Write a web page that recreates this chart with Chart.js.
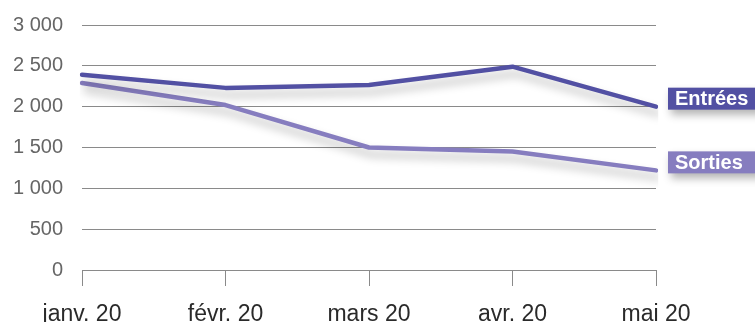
<!DOCTYPE html>
<html lang="fr">
<head>
<meta charset="utf-8">
<script src="https://cdn.jsdelivr.net/npm/chart.js@4.4.1/dist/chart.umd.min.js"></script>
<style>
  html, body { margin: 0; padding: 0; background: #fff; }
  #wrap { width: 755px; height: 322px; position: relative; }
</style>
</head>
<body>
<div id="wrap"><canvas id="c" width="755" height="322"></canvas></div>
<script>
const months = ['janv. 20', 'févr. 20', 'mars 20', 'avr. 20', 'mai 20'];
const entrees = [2390, 2230, 2265, 2490, 2000];
const sorties = [2290, 2020, 1500, 1450, 1220];
const seriesNames = ['Entrées', 'Sorties'];
const seriesColors = ['#5250a3', '#867dbf'];

const fmt = v => String(v).replace(/\B(?=(\d{3})+(?!\d))/g, ' ');

// soft drop shadow under the lines
const lineShadow = {
  id: 'lineShadow',
  beforeDatasetsDraw(chart) {
    const ctx = chart.ctx;
    ctx.save();
    ctx.shadowColor = 'rgba(0,0,0,0.28)';
    ctx.shadowBlur = 10;
    ctx.shadowOffsetX = 3;
    ctx.shadowOffsetY = 7;
  },
  afterDatasetsDraw(chart) {
    chart.ctx.restore();
  }
};

// series name tags at the end of each line
const endTags = {
  id: 'endTags',
  afterDatasetsDraw(chart) {
    const ctx = chart.ctx;
    chart.data.datasets.forEach((ds, i) => {
      const meta = chart.getDatasetMeta(i);
      const last = meta.data[meta.data.length - 1];
      const x = last.x + 12;
      const cy = last.y - 8;
      const h = 22;
      ctx.save();
      ctx.shadowColor = 'rgba(0,0,0,0.3)';
      ctx.shadowBlur = 8;
      ctx.shadowOffsetX = 3;
      ctx.shadowOffsetY = 5;
      ctx.fillStyle = ds.borderColor;
      ctx.fillRect(x, cy - h / 2, 100, h);
      ctx.restore();
      ctx.save();
      ctx.fillStyle = '#ffffff';
      ctx.font = 'bold 20px "Liberation Sans", Arial, sans-serif';
      ctx.textBaseline = 'middle';
      ctx.textAlign = 'left';
      ctx.fillText(ds.label, x + 7, cy + 1);
      ctx.restore();
    });
  }
};

new Chart(document.getElementById('c'), {
  type: 'line',
  data: {
    labels: months,
    datasets: [
      { label: seriesNames[0], data: entrees, borderColor: seriesColors[0], backgroundColor: seriesColors[0] },
      { label: seriesNames[1], data: sorties, borderColor: seriesColors[1], backgroundColor: seriesColors[1] }
    ]
  },
  options: {
    responsive: false,
    animation: false,
    devicePixelRatio: 1,
    layout: { padding: { top: 25, right: 99, left: 0, bottom: 0 } },
    elements: {
      line: { borderWidth: 4.5, tension: 0, borderCapStyle: 'round', borderJoinStyle: 'round' },
      point: { radius: 0, hoverRadius: 0 }
    },
    plugins: {
      legend: { display: false },
      tooltip: { enabled: false }
    },
    scales: {
      x: {
        offset: false,
        grid: { drawOnChartArea: false, drawTicks: true, tickLength: 16, color: '#8a8a8a', lineWidth: 1 },
        border: { display: true, color: '#8a8a8a', width: 1 },
        ticks: {
          color: '#2a2a2a',
          font: { family: '"Liberation Sans", Arial, sans-serif', size: 23 },
          padding: 15,
          maxRotation: 0,
          autoSkip: false
        },
        afterFit(scale) { scale.height = 52; scale.paddingLeft = 0; scale.paddingRight = 0; }
      },
      y: {
        min: 0,
        max: 3000,
        grid: { drawTicks: false, color: '#8a8a8a', lineWidth: 1 },
        border: { display: false },
        ticks: {
          stepSize: 500,
          color: '#666666',
          padding: 19,
          font: { family: '"Liberation Sans", Arial, sans-serif', size: 20 },
          callback: v => fmt(v)
        },
        afterFit(scale) { scale.width = 82; scale.paddingTop = 0; scale.paddingBottom = 0; }
      }
    }
  },
  plugins: [lineShadow, endTags]
});
</script>
</body>
</html>
